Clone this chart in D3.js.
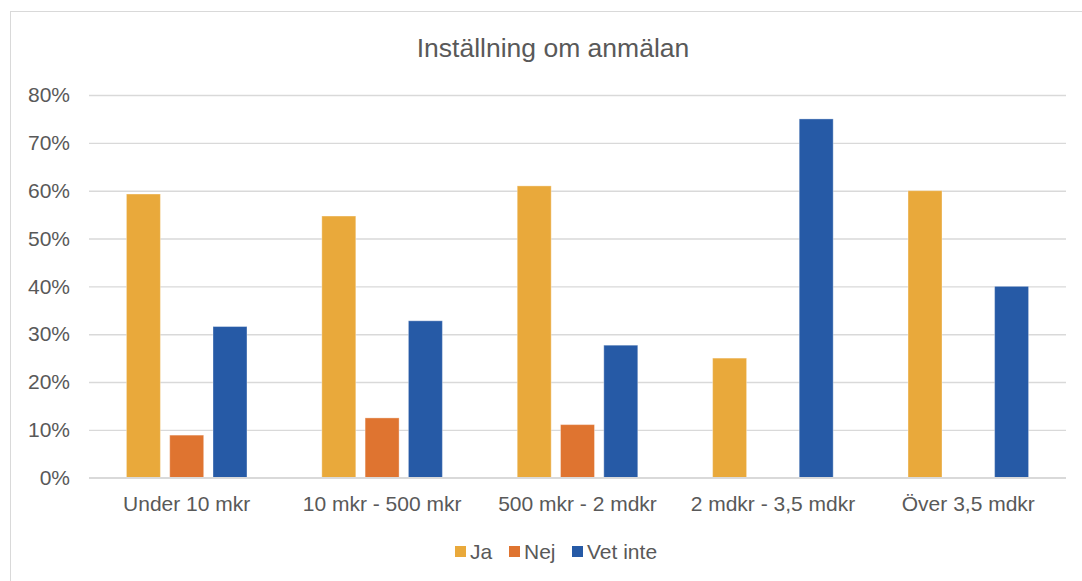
<!DOCTYPE html>
<html>
<head>
<meta charset="utf-8">
<script src="https://cdn.jsdelivr.net/npm/d3@7/dist/d3.min.js"></script>
<style>
  html, body { margin: 0; padding: 0; background: #ffffff; }
  svg { display: block; font-family: "Liberation Sans", Arial, sans-serif; }
</style>
</head>
<body>
<svg id="chart" width="1082" height="581"></svg>
<script>
// Survey answers per company size class
const categories = ["Under 10 mkr", "10 mkr - 500 mkr", "500 mkr - 2 mdkr", "2 mdkr - 3,5 mdkr", "Över 3,5 mdkr"];
const seriesNames = ["Ja", "Nej", "Vet inte"];
const ja = [0.593, 0.547, 0.610, 0.25, 0.60];
const nej = [0.089, 0.125, 0.111, 0, 0];
const vetInte = [0.316, 0.328, 0.277, 0.75, 0.40];
const yTicks = [0, 0.1, 0.2, 0.3, 0.4, 0.5, 0.6, 0.7, 0.8];
const colors = ["#E9A93B", "#DF7430", "#265AA6"];
const title = "Inställning om anmälan";

const seriesValues = [ja, nej, vetInte];
const rows = [];
categories.forEach((c, i) => {
  seriesNames.forEach((s, j) => rows.push({ category: c, series: s, value: seriesValues[j][i], color: colors[j] }));
});

const svg = d3.select("#chart");
const textColor = "#595959";
const gridColor = "#d9d9d9";
const fontFamily = "Liberation Sans, Arial, sans-serif";
const labelSize = 21;

// Chart frame
svg.append("rect")
  .attr("x", 10.5).attr("y", 11.5)
  .attr("width", 1090).attr("height", 600)
  .attr("fill", "#ffffff").attr("stroke", gridColor).attr("stroke-width", 1);

const plot = { left: 89, right: 1066, top: 95, bottom: 477.7 };

const x0 = d3.scaleBand().domain(categories)
  .range([plot.left, plot.right]).paddingInner(0.383).paddingOuter(0.1915);
const x1 = d3.scaleBand().domain(seriesNames)
  .range([0, x0.bandwidth()]).paddingInner(0.215).paddingOuter(0);
const y = d3.scaleLinear().domain([0, 0.8]).range([plot.bottom, plot.top]);

// Gridlines + y axis labels
const yAxis = d3.axisLeft(y).tickValues(yTicks)
  .tickFormat(d3.format(".0%"))
  .tickSize(-(plot.right - plot.left)).tickPadding(19);
const gy = svg.append("g").attr("transform", `translate(${plot.left},0)`).call(yAxis);
gy.select(".domain").remove();
gy.selectAll(".tick line").attr("stroke", gridColor).attr("stroke-width", 1.4);
gy.selectAll(".tick text")
  .attr("fill", textColor).attr("font-size", labelSize)
  .attr("font-family", fontFamily);

// Bars
svg.append("g").selectAll("rect")
  .data(rows.filter(d => d.value > 0))
  .join("rect")
  .attr("x", d => x0(d.category) + x1(d.series))
  .attr("width", x1.bandwidth())
  .attr("y", d => y(d.value))
  .attr("height", d => y(0) - y(d.value))
  .attr("fill", d => d.color)
  .attr("stroke", "#ffffff").attr("stroke-opacity", 0.35).attr("stroke-width", 1);

// Category axis
const xAxis = d3.axisBottom(x0).tickSize(0).tickPadding(18);
const gx = svg.append("g").attr("transform", `translate(0,${plot.bottom})`).call(xAxis);
gx.select(".domain").remove();
gx.selectAll(".tick text")
  .attr("fill", textColor).attr("font-size", labelSize)
  .attr("font-family", fontFamily);

// Baseline
svg.append("line")
  .attr("x1", plot.left).attr("x2", plot.right)
  .attr("y1", y(0)).attr("y2", y(0))
  .attr("stroke", gridColor).attr("stroke-width", 1.4);

// Title
svg.append("text")
  .attr("x", 553).attr("y", 57)
  .attr("text-anchor", "middle")
  .attr("fill", textColor).attr("font-size", 26.5)
  .attr("font-family", fontFamily)
  .text(title);

// Legend
const legendX = [455, 509, 572];
const legend = svg.append("g").selectAll("g")
  .data(seriesNames)
  .join("g")
  .attr("transform", (d, i) => `translate(${legendX[i]},546)`);
legend.append("rect").attr("width", 11).attr("height", 11)
  .attr("fill", (d, i) => colors[i]);
legend.append("text").attr("x", 15).attr("y", 13)
  .attr("fill", textColor).attr("font-size", labelSize)
  .attr("font-family", fontFamily)
  .text(d => d);
</script>
</body>
</html>
